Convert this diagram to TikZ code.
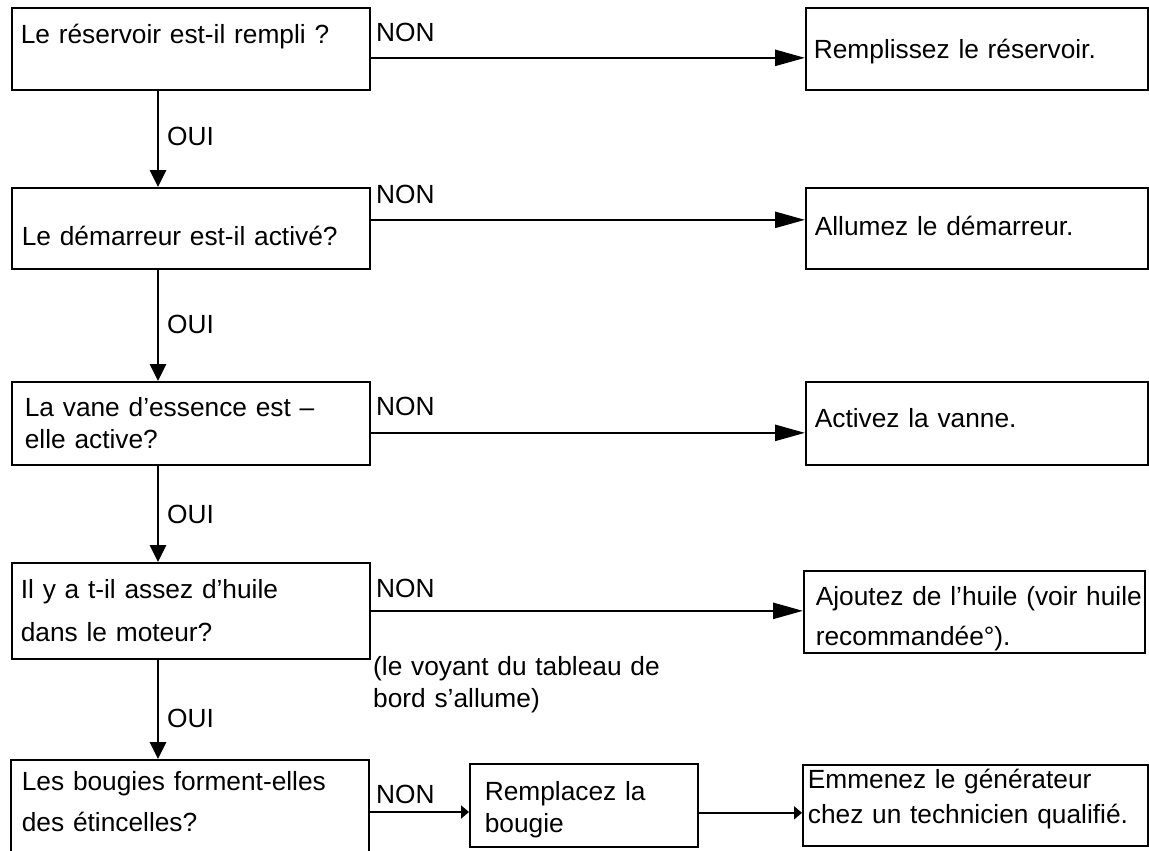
\documentclass[tikz,border=0pt]{standalone}
\usepackage{fontspec}
\setmainfont{Liberation Sans}
\usetikzlibrary{arrows.meta,calc}
\begin{document}
\begin{tikzpicture}[x=1pt,y=-1pt,
  box/.style={draw, line width=1.7pt, anchor=north west, inner ysep=0pt, align=left, font=\fontsize{26.3}{32}\selectfont},
  lbl/.style={anchor=base west, inner sep=0pt, font=\fontsize{26.3}{32}\selectfont},
  yesarrow/.style={line width=2.8pt, -{Triangle[length=17pt,width=16pt]}},
  noarrow/.style={line width=2.5pt, -{Triangle[length=30pt,width=16pt]}},
  smallarrow/.style={line width=2.2pt, -{Triangle[length=8pt,width=13pt]}},
]
\useasboundingbox (0,0) rectangle (1149,851);
\fill[white] (0,0) rectangle (1149,851);
\clip (0,0) rectangle (1149,851);

% left column: questions
\node[box, inner xsep=9pt, text width=340pt, text height=36pt, text depth=46pt] (q1) at (11,7) {Le réservoir est-il rempli ?};
\node[box, inner xsep=10pt, text width=338pt, text height=58pt, text depth=23pt] (q2) at (11,187) {Le démarreur est-il activé?};
\node[box, inner xsep=13pt, text width=332pt, text height=35pt, text depth=48pt] (q3) at (11,381) {La vane d’essence est –\\elle active?};
\node[box, inner xsep=9pt, text width=340pt, text height=36pt, text depth=60pt, font=\fontsize{26.3}{43}\selectfont] (q4) at (11,562) {Il y a t-il assez d’huile\\dans le moteur?};
\node[box, inner xsep=11pt, text width=336pt, text height=31pt, text depth=90pt, font=\fontsize{26.3}{41}\selectfont] (q5) at (10,759) {\mbox{Les bougies forment-elles}\\des étincelles?};

% right column: actions
\node[box, inner xsep=8pt, text width=326pt, text height=51pt, text depth=31pt] (a1) at (805,7) {Remplissez le réservoir.};
\node[box, inner xsep=9pt, text width=324pt, text height=48pt, text depth=33pt] (a2) at (805,187) {Allumez le démarreur.};
\node[box, inner xsep=9pt, text width=324pt, text height=46pt, text depth=37pt] (a3) at (805,381) {Activez la vanne.};
\node[box, inner xsep=12pt, text width=317pt, text height=35pt, text depth=47pt, font=\fontsize{26.3}{40}\selectfont] (a4) at (803,570) {\mbox{Ajoutez de l’huile (voir huile}\\recommandée°).};
\node[box, inner xsep=15pt, text width=198pt, text height=37pt, text depth=46pt] (r5) at (469,763) {Remplacez la\\bougie};
\node[box, inner xsep=5pt, text width=335pt, text height=24pt, text depth=57pt, font=\fontsize{26.3}{35}\selectfont] (a5) at (802,764) {\mbox{Emmenez le générateur}\\\mbox{chez un technicien qualifié.}};

% OUI connectors
\draw[yesarrow] ([xshift=147pt]q1.south west) -- ([xshift=147pt]q2.north west);
\draw[yesarrow] ([xshift=147pt]q2.south west) -- ([xshift=147pt]q3.north west);
\draw[yesarrow] ([xshift=147pt]q3.south west) -- ([xshift=147pt]q4.north west);
\draw[yesarrow] ([xshift=147pt]q4.south west) -- ([xshift=147pt]q4.south west |- q5.north);

% NON connectors
\draw[noarrow] ([yshift=-9pt]q1.east) -- ([yshift=-9pt]q1.east -| a1.west);
\draw[noarrow] ([yshift=8.5pt]q2.east) -- ([yshift=8.5pt]q2.east -| a2.west);
\draw[noarrow] ([yshift=-9.5pt]q3.east) -- ([yshift=-9.5pt]q3.east -| a3.west);
\draw[noarrow] (q4.east) -- (q4.east -| a4.west);
\draw[smallarrow] ([yshift=-53pt]q5.north east) -- ([yshift=-53pt]q5.north east -| r5.west);
\draw[smallarrow] ([yshift=-7.5pt]r5.east) -- ([yshift=-7.5pt]r5.east -| a5.west);

% labels
\node[lbl] (oui1) at (167,145) {OUI};
\node[lbl] (oui2) at (167,333) {OUI};
\node[lbl] (oui3) at (167,523) {OUI};
\node[lbl] (oui4) at (167,727) {OUI};
\node[lbl] (non1) at (376,42) {NON};
\node[lbl] (non2) at (376,203) {NON};
\node[lbl] (non3) at (376,415) {NON};
\node[lbl] (non4) at (376,597) {NON};
\node[lbl] (non5) at (376,803) {NON};
\node[lbl, text width=330pt, align=left] (note) at (373,675) {(le voyant du tableau de\\bord s’allume)};
\end{tikzpicture}
\end{document}
